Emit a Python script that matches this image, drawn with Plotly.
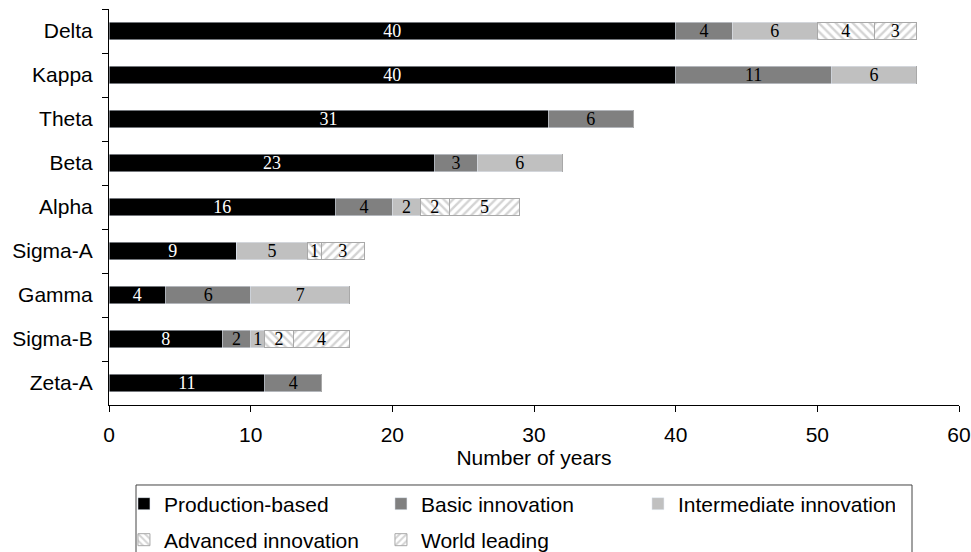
import plotly.graph_objects as go

categories = ["Delta", "Kappa", "Theta", "Beta", "Alpha", "Sigma-A", "Gamma", "Sigma-B", "Zeta-A"]
production_based = [40, 40, 31, 23, 16, 9, 4, 8, 11]
basic_innovation = [4, 11, 6, 3, 4, 0, 6, 2, 4]
intermediate_innovation = [6, 6, 0, 6, 2, 5, 7, 1, 0]
advanced_innovation = [4, 0, 0, 0, 2, 1, 0, 2, 0]
world_leading = [3, 0, 0, 0, 5, 3, 0, 4, 0]
x_ticks = [0, 10, 20, 30, 40, 50, 60]

series = [
    ("Production-based", production_based, dict(color="#000000"), "white", "legend"),
    ("Basic innovation", basic_innovation, dict(color="#808080"), "black", "legend"),
    ("Intermediate innovation", intermediate_innovation, dict(color="#c0c0c0"), "black", "legend"),
    ("Advanced innovation", advanced_innovation,
     dict(color="white", pattern=dict(shape="\\", fgcolor="#a8a8a8", bgcolor="white", size=6, solidity=0.4),
          line=dict(color="#a8a8a8", width=1)), "black", "legend2"),
    ("World leading", world_leading,
     dict(color="white", pattern=dict(shape="/", fgcolor="#a8a8a8", bgcolor="white", size=6, solidity=0.4),
          line=dict(color="#a8a8a8", width=1)), "black", "legend2"),
]

fig = go.Figure()
for name, vals, marker, tcolor, lg in series:
    fig.add_trace(go.Bar(
        name=name, y=categories, x=vals, orientation="h",
        marker=marker,
        text=[str(v) if v else "" for v in vals],
        textposition="inside", insidetextanchor="middle", textangle=0,
        constraintext="none",
        textfont=dict(family="Liberation Serif", size=18, color=tcolor),
        width=0.40, legend=lg,
    ))

legend_common = dict(orientation="h", xanchor="left", yanchor="middle", x=0.0176,
                     bgcolor="rgba(0,0,0,0)", borderwidth=0, entrywidth=212,
                     entrywidthmode="pixels", traceorder="normal",
                     font=dict(size=21), itemwidth=30)

fig.update_layout(
    barmode="stack",
    width=971, height=552,
    margin=dict(l=109, r=12, t=9, b=147, autoexpand=False),
    plot_bgcolor="white", paper_bgcolor="white",
    font=dict(family="Liberation Sans", size=21, color="black"),
    xaxis=dict(range=[0, 60], tickvals=x_ticks, showline=True, linecolor="black", linewidth=1,
               ticks="outside", ticklen=6, tickcolor="black", showgrid=False, zeroline=False,
               tickfont=dict(size=21), ticklabelstandoff=5,
               title=dict(text="Number of years", standoff=5, font=dict(size=21))),
    yaxis=dict(categoryorder="array", categoryarray=categories, autorange="reversed",
               showline=True, linecolor="black", linewidth=1, ticks="outside", ticklen=6,
               tickcolor="black", tickson="boundaries", showgrid=False,
               tickfont=dict(size=21), ticklabelstandoff=11),
    legend=dict(legend_common, y=-0.25),
    legend2=dict(legend_common, y=-0.341),
    shapes=[dict(type="rect", xref="paper", yref="paper",
                 x0=(136 - 109) / 850, x1=(912 - 109) / 850,
                 y0=-0.45, y1=-0.202, line=dict(color="#444", width=1),
                 fillcolor="rgba(0,0,0,0)", layer="above")],
    bargap=0.6,
)

fig.write_html("out.html")
